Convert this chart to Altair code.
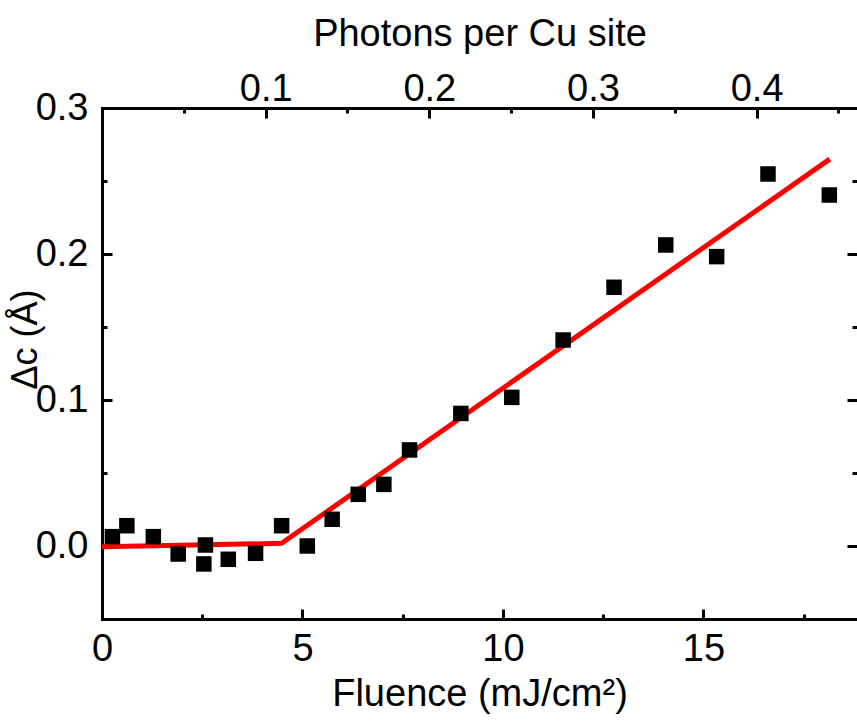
import altair as alt
import pandas as pd

# ---- data ----
fluence = [0.26, 0.62, 1.28, 1.90, 2.58, 2.54, 3.15, 3.83, 4.48, 5.12, 5.74,
           6.39, 7.03, 7.67, 8.95, 10.22, 11.50, 12.77, 14.06, 15.33, 16.61, 18.14]
delta_c = [0.0064, 0.0139, 0.0064, -0.0055, 0.0007, -0.0123, -0.0091, -0.0050,
           0.0139, 0.0000, 0.0183, 0.0354, 0.0422, 0.0658, 0.0908, 0.1018,
           0.1411, 0.1772, 0.2062, 0.1982, 0.2548, 0.2404]
fit_fluence = [0.0, 4.48, 18.15]
fit_delta_c = [-0.0005, 0.0018, 0.265]

photons_per_fluence = 0.0245   # photons per Cu site per mJ/cm^2

x_major = [0, 5, 10, 15]
x_minor = [2.5, 7.5, 12.5, 17.5]
y_major = [0.0, 0.1, 0.2, 0.3]
y_minor = [0.05, 0.15, 0.25]
top_major = [0.1, 0.2, 0.3, 0.4]
top_minor = [0.05, 0.15, 0.25, 0.35, 0.45]

x_domain = [0, 18.83]
y_domain = [-0.05, 0.3]

W, H = 755, 511
FONT = "Liberation Sans"
FS = 38

pts = pd.DataFrame({"fluence": fluence, "dc": delta_c})
fit = pd.DataFrame({"fluence": fit_fluence, "dc": fit_delta_c})

top_major_f = [v / photons_per_fluence for v in top_major]
top_minor_f = [v / photons_per_fluence for v in top_minor]

xs = alt.Scale(domain=x_domain, nice=False, zero=False)
ys = alt.Scale(domain=y_domain, nice=False, zero=False)


def tick_axis(orient, offset, values, size):
    return alt.Axis(orient=orient, offset=offset, values=values, tickSize=size,
                    labels=False, domain=False, title=None, grid=False)


# points + bottom labels + left labels
points = alt.Chart(pts).mark_square(size=240, color="black", opacity=1, filled=True).encode(
    x=alt.X("fluence:Q", scale=xs,
            axis=alt.Axis(orient="bottom", values=x_major, ticks=False, labelPadding=11,
                          labelFlush=False, labelOverlap=False,
                          title="Fluence (mJ/cm²)", titleBaseline="alphabetic", titleY=86)),
    y=alt.Y("dc:Q", scale=ys,
            axis=alt.Axis(orient="left", values=y_major, format=".1f", ticks=False,
                          labelPadding=14, labelFlush=False, labelOverlap=False,
                          title="Δc (Å)", titleAngle=270, titleBaseline="alphabetic",
                          titleAlign="center", titleX=-66, titleY=231,
                          titleFontSize=36)),
)

# fit line + top labels + right major ticks
line = alt.Chart(fit).mark_line(color="#ff0000", strokeWidth=5).encode(
    x=alt.X("fluence:Q", scale=xs,
            axis=alt.Axis(orient="top", values=top_major_f, ticks=False, labelPadding=8,
                          labelBaseline="alphabetic", labelFlush=False, labelOverlap=False,
                          labelExpr=f"format(datum.value*{photons_per_fluence}, '.1f')",
                          title="Photons per Cu site", titleBaseline="alphabetic", titleY=-63)),
    y=alt.Y("dc:Q", scale=ys, axis=tick_axis("left", -W, y_major, 10)),
)

# invisible layers that only carry inward tick axes
ghost = alt.Chart(pts).mark_point(opacity=0)
l3 = ghost.encode(
    x=alt.X("fluence:Q", scale=xs, axis=tick_axis("top", -H, x_major, 10)),
    y=alt.Y("dc:Q", scale=ys, axis=tick_axis("right", -W, y_major, 10)),
)
l4 = ghost.encode(
    x=alt.X("fluence:Q", scale=xs, axis=tick_axis("top", -H, x_minor, 5)),
    y=alt.Y("dc:Q", scale=ys, axis=tick_axis("right", -W, y_minor, 5)),
)
l5 = ghost.encode(
    x=alt.X("fluence:Q", scale=xs, axis=tick_axis("bottom", -H, top_major_f, 10)),
    y=alt.Y("dc:Q", scale=ys, axis=tick_axis("left", -W, y_minor, 5)),
)
l6 = ghost.encode(
    x=alt.X("fluence:Q", scale=xs, axis=tick_axis("bottom", -H, top_minor_f, 5)),
    y=alt.Y("dc:Q", scale=ys, axis=None),
)

chart = alt.layer(line, points, l3, l4, l5, l6).resolve_axis(
    x="independent", y="independent"
).properties(
    width=W, height=H,
    autosize=alt.AutoSizeParams(type="none"),
    padding={"left": 102, "top": 108, "right": 0, "bottom": 102},
    background="white",
).configure_axis(
    grid=False, domainColor="black", domainWidth=3, domainCap="square",
    tickColor="black", tickWidth=3,
    labelColor="black", titleColor="black",
    labelFont=FONT, titleFont=FONT, labelFontSize=FS, titleFontSize=FS,
    titleFontWeight="normal",
).configure_view(strokeWidth=0)

chart.save("out.html", embed_options={"renderer": "svg", "actions": False})
